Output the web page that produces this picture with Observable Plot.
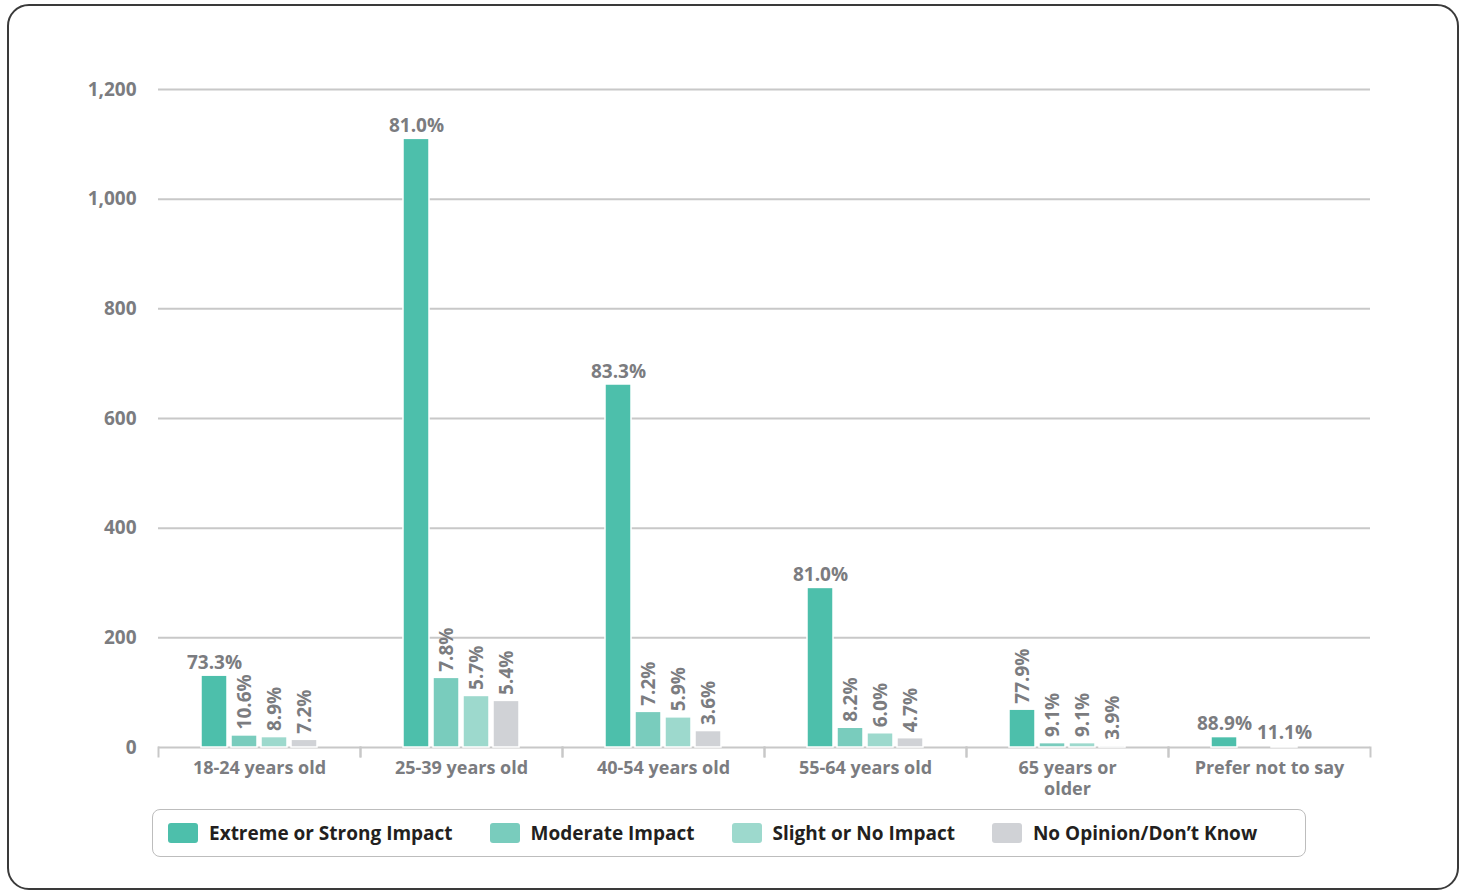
<!DOCTYPE html>
<html>
<head>
<meta charset="utf-8">
<script src="https://cdn.jsdelivr.net/npm/d3@7"></script>
<script src="https://cdn.jsdelivr.net/npm/@observablehq/plot@0.6"></script>
<style>
  html, body { margin: 0; padding: 0; background: #fff; }
  body { width: 1460px; height: 892px; position: relative; overflow: hidden;
         font-family: "Open Sans", Roboto, sans-serif; font-stretch: 90%; }
  #frame { position: absolute; left: 7px; top: 4px; width: 1448px; height: 882px;
           border: 2px solid #3a3a3a; border-radius: 22px; }
  #chart { position: absolute; left: 0; top: 0; }
  #chart svg text { font-stretch: 90%; }
  #legend { position: absolute; left: 152px; top: 809px; width: 1154px; height: 48px;
            border: 1.5px solid #bdbdbd; border-radius: 8px; box-sizing: border-box;
            display: flex; align-items: center; padding-left: 15px; gap: 37px; white-space: nowrap; }
  .item { display: flex; align-items: center; gap: 11px; font-weight: bold; font-size: 19px; color: #231f20; font-stretch: 90%; }
  .sw { width: 30px; height: 20px; border-radius: 3px; }
</style>
</head>
<body>
<div id="frame"></div>
<div id="chart"></div>
<div id="legend"></div>
<script>
const groups = ["18-24 years old", "25-39 years old", "40-54 years old", "55-64 years old", "65 years or older", "Prefer not to say"];
const groupTickLabels = ["18-24 years old", "25-39 years old", "40-54 years old", "55-64 years old", "65 years or\nolder", "Prefer not to say"];
const series = ["Extreme or Strong Impact", "Moderate Impact", "Slight or No Impact", "No Opinion/Don’t Know"];
const colors = ["#4dbfab", "#79ccbd", "#9dd9cd", "#d0d2d6"];

const extremeValues  = [131, 1110, 662, 291, 69, 19];
const moderateValues = [22, 127, 65, 36, 8, 0];
const slightValues   = [19, 94, 55, 26, 8, 2];
const noOpinionValues = [14, 85, 30, 17, 3, 0];

const extremeLabels  = ["73.3%", "81.0%", "83.3%", "81.0%", "77.9%", "88.9%"];
const moderateLabels = ["10.6%", "7.8%", "7.2%", "8.2%", "9.1%", ""];
const slightLabels   = ["8.9%", "5.7%", "5.9%", "6.0%", "9.1%", "11.1%"];
const noOpinionLabels = ["7.2%", "5.4%", "3.6%", "4.7%", "3.9%", ""];

const yTicks = [0, 200, 400, 600, 800, 1000, 1200];

const valueSets = [extremeValues, moderateValues, slightValues, noOpinionValues];
const labelSets = [extremeLabels, moderateLabels, slightLabels, noOpinionLabels];

const data = [];
groups.forEach((g, gi) => {
  series.forEach((s, si) => {
    const horizontal = (si === 0 && gi !== 4) || gi === 5;
    data.push({group: g, series: s, value: valueSets[si][gi], label: labelSets[si][gi], horizontal});
  });
});

const gray = "#7b7c80";
const gridColor = "#c8c8c8";
const tickLabelOf = new Map(groups.map((g, i) => [g, groupTickLabels[i]]));

const chart = Plot.plot({
  width: 1460,
  height: 802,
  marginLeft: 157,
  marginRight: 90,
  marginTop: 89,
  marginBottom: 55,
  style: {fontFamily: '"Open Sans", Roboto, sans-serif', fontSize: "18px", fontWeight: "bold", color: gray, background: "transparent"},
  fx: {domain: groups, padding: 0, label: null, axis: null},
  x: {domain: series, paddingInner: 0.13, paddingOuter: 1.43, axis: null},
  y: {domain: [0, 1200], label: null},
  color: {domain: series, range: colors},
  marks: [
    Plot.gridY(yTicks, {stroke: gridColor, strokeOpacity: 1, strokeWidth: 2}),
    Plot.frame({anchor: "left", stroke: gridColor, strokeWidth: 2, insetTop: 658, insetBottom: -9}),
    Plot.frame({anchor: "right", stroke: gridColor, strokeWidth: 2, insetTop: 658, insetBottom: -9}),
    Plot.axisY({ticks: yTicks, tickSize: 0, tickPadding: 22, tickFormat: d3.format(","), fill: gray, fontSize: 19, fontWeight: "bold"}),
    Plot.axisFx({anchor: "bottom", tickSize: 0, tickPadding: 11, tickFormat: (d) => tickLabelOf.get(d), fill: gray, fontSize: 18, fontWeight: "bold", lineHeight: 1.2, label: null}),
    Plot.barY(data, {fx: "group", x: "series", y: "value", fill: "series", stroke: "white", strokeWidth: 1.5}),
    Plot.text(data.filter(d => d.horizontal && d.label), {fx: "group", x: "series", y: "value", text: "label", dy: -7, lineAnchor: "bottom", fill: gray, fontSize: 19, fontWeight: "bold"}),
    Plot.text(data.filter(d => !d.horizontal && d.label), {fx: "group", x: "series", y: "value", text: "label", rotate: -90, textAnchor: "start", dy: -6, fill: gray, fontSize: 19, fontWeight: "bold"})
  ]
});
document.getElementById("chart").appendChild(chart);

const legend = document.getElementById("legend");
series.forEach((s, i) => {
  const item = document.createElement("div");
  item.className = "item";
  const sw = document.createElement("div");
  sw.className = "sw";
  sw.style.background = colors[i];
  const t = document.createElement("span");
  t.textContent = s;
  item.appendChild(sw);
  item.appendChild(t);
  legend.appendChild(item);
});
</script>
</body>
</html>
